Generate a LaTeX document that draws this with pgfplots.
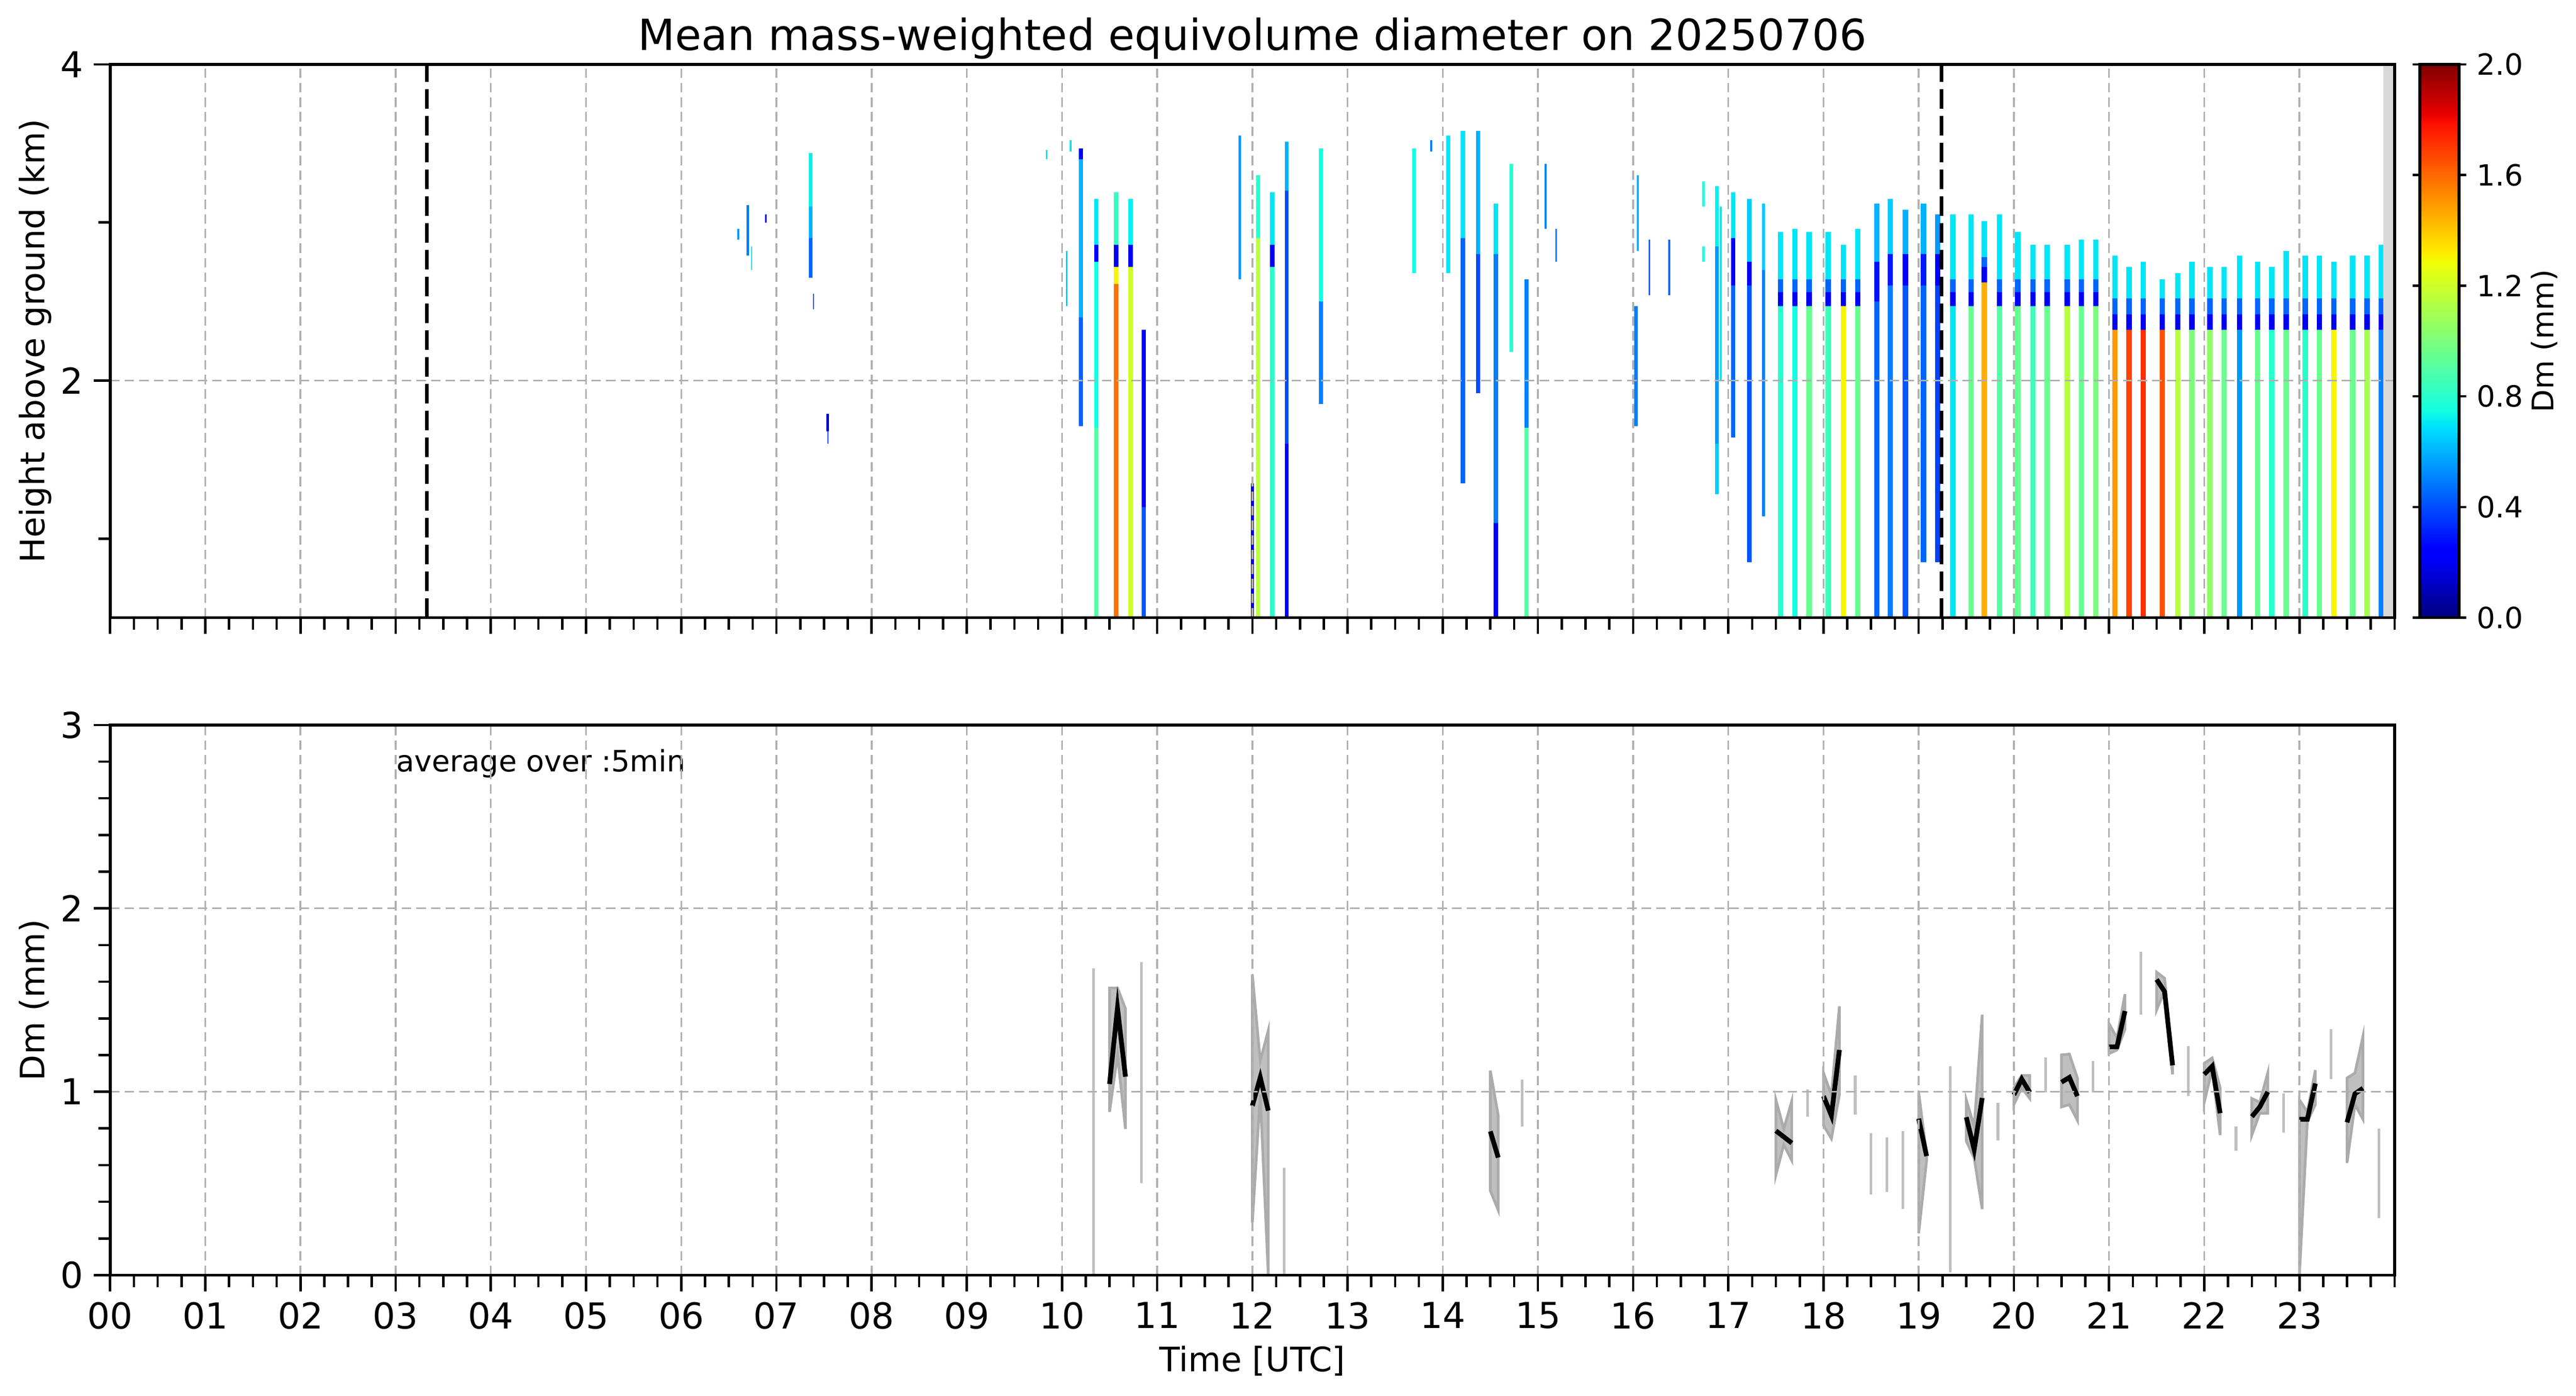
\documentclass[border=0pt]{standalone}
\usepackage{fontspec}
\setmainfont{DejaVu Sans}
\usepackage{pgfplots}
\pgfplotsset{compat=1.18}
\definecolor{gridgray}{RGB}{176,176,176}
\pgfplotsset{
  colormap={mpljet}{rgb(0pt)=(0,0,0.5) rgb(110pt)=(0,0,1) rgb(125pt)=(0,0,1) rgb(340pt)=(0,0.86,1) rgb(350pt)=(0,0.9,0.968) rgb(375pt)=(0.0806,1,0.887) rgb(640pt)=(0.935,1,0.032) rgb(650pt)=(0.968,0.963,0) rgb(660pt)=(1,0.926,0) rgb(890pt)=(1,0.074,0) rgb(910pt)=(0.909,0,0) rgb(1000pt)=(0.5,0,0)},
  stripe/.style={mesh, shader=flat mean, point meta=explicit, line width=1.8pt, forget plot},
  band/.style={fill=black!25, draw=black!33, line width=0.9pt, forget plot},
  thinl/.style={draw=black!25, line width=0.9pt, forget plot},
  blk/.style={black, line width=1.6pt, forget plot},
  common/.style={
    scale only axis, width=767.44pt,
    xmin=0, xmax=24,
    xtick={0,...,23}, minor xtick={0,0.25,...,24},
    tick align=outside, xtick pos=lower, ytick pos=left,
    major tick length=5.5pt, minor tick length=4pt,
    tick style={black, line width=0.8pt},
    axis line style={line width=1pt},
    xmajorgrids, ymajorgrids,
    major grid style={draw=gridgray, line width=0.6pt, dash pattern=on 3.2pt off 1.7pt},
    axis on top,
    tick label style={font=\fontsize{12}{14}\selectfont},
    /pgf/number format/assume math mode=true,
    every axis y label/.style={at={(axis description cs:0,0.5)}, xshift=-22pt, rotate=90, anchor=base, font=\fontsize{11.3}{13}\selectfont},
    every axis x label/.style={at={(axis description cs:0.5,0)}, yshift=-32.3pt, anchor=base, font=\fontsize{11.3}{13}\selectfont},
    every axis title/.style={at={(axis description cs:0.5,1)}, yshift=4.8pt, anchor=base, font=\fontsize{14.4}{17}\selectfont},
  },
}
\newcommand{\SEG}[5][1.8pt]{\addplot[stripe, line width=#1] coordinates {(#2,#3) [#5] (#2,#4) [#5]};}
\newcommand{\RS}[6]{\addplot[stripe] coordinates {(#1,0.5) [#6] (#1,#5) [#6] (#1,#5) [0.2] (#1,#4) [0.2] (#1,#4) [0.45] (#1,#3) [0.45] (#1,#3) [0.7] (#1,#2) [0.7]};}
\newcommand{\RA}[3]{\RS{#1}{#2}{2.64}{2.56}{2.47}{#3}}
\newcommand{\RB}[3]{\RS{#1}{#2}{2.52}{2.42}{2.32}{#3}}
\begin{document}
\begin{tikzpicture}
\useasboundingbox (0,0) rectangle (865.35pt,468.72pt);
% ---------------- top panel ----------------
\begin{axis}[common,
  at={(36.98pt,261.28pt)}, anchor=south west, height=185.81pt,
  ymin=0.5, ymax=4, ytick={2,4}, minor ytick={1,3},
  xticklabel={\relax},
  ylabel={Height above ground (km)},
  title={Mean mass-weighted equivolume diameter on 20250706},
  colormap name=mpljet, point meta min=0, point meta max=2,
  colorbar,
  colorbar style={
    at={(parent axis.north east)}, anchor=north west,
    scale only axis, width=13.14pt, height=185.81pt,
    ytick={0,0.4,0.8,1.2,1.6,2.0},
    yticklabel style={font=\fontsize{9.8}{11}\selectfont, /pgf/number format/.cd, fixed, fixed zerofill, precision=1, assume math mode=true},
    major tick length=2.4pt, tick align=outside,
    tick style={black, line width=0.8pt},
    axis line style={line width=1pt},
    ylabel={Dm (mm)},
    every axis y label/.style={at={(axis description cs:1,0.5)}, xshift=31.7pt, rotate=90, anchor=base, font=\fontsize{10}{12}\selectfont},
  },
]
% small echoes around 07 UTC
\SEG[0.7pt]{6.60}{2.89}{2.96}{0.55}
\SEG[0.9pt]{6.70}{2.79}{3.11}{0.5}
\SEG[0.5pt]{6.74}{2.70}{2.85}{0.7}
\SEG[0.5pt]{6.89}{3.00}{3.05}{0.2}
\SEG[1.2pt]{7.36}{2.65}{2.90}{0.45}
\SEG[1.2pt]{7.36}{2.90}{3.10}{0.6}
\SEG[1.2pt]{7.36}{3.10}{3.44}{0.72}
\SEG[0.4pt]{7.39}{2.45}{2.55}{0.4}
\SEG[0.8pt]{7.54}{1.68}{1.79}{0.12}
\SEG[0.4pt]{7.54}{1.60}{1.68}{0.4}
% 10-11 UTC
\SEG[0.6pt]{9.84}{3.40}{3.46}{0.7}
\SEG[0.6pt]{10.05}{2.47}{2.82}{0.65}
\SEG[0.6pt]{10.09}{3.45}{3.52}{0.7}
\SEG[1.3pt]{10.20}{1.71}{2.40}{0.45}
\SEG[1.3pt]{10.20}{2.40}{3.40}{0.6}
\SEG[1.3pt]{10.20}{3.40}{3.47}{0.2}
\SEG[1.3pt]{10.36}{0.50}{1.70}{0.9}
\SEG[1.3pt]{10.36}{1.70}{2.75}{0.75}
\SEG[1.3pt]{10.36}{2.75}{2.86}{0.22}
\SEG[1.3pt]{10.36}{2.86}{3.15}{0.7}
\SEG[1.6pt]{10.57}{0.50}{2.61}{1.58}
\SEG[1.6pt]{10.57}{2.61}{2.72}{1.3}
\SEG[1.6pt]{10.57}{2.72}{2.86}{0.2}
\SEG[1.6pt]{10.57}{2.86}{3.19}{0.82}
\SEG[1.5pt]{10.72}{0.50}{2.72}{1.2}
\SEG[1.5pt]{10.72}{2.72}{2.86}{0.2}
\SEG[1.5pt]{10.72}{2.86}{3.15}{0.72}
\SEG[1.3pt]{10.86}{0.50}{1.20}{0.42}
\SEG[1.3pt]{10.86}{1.20}{2.32}{0.25}
% 12 UTC
\SEG[0.8pt]{11.87}{2.64}{3.55}{0.55}
\SEG[1.1pt]{12.00}{0.50}{1.35}{0.2}
\SEG[1.4pt]{12.06}{0.50}{2.90}{1.15}
\SEG[1.4pt]{12.06}{2.90}{3.30}{0.8}
\SEG[1.5pt]{12.21}{0.50}{2.72}{0.8}
\SEG[1.5pt]{12.21}{2.72}{2.86}{0.2}
\SEG[1.5pt]{12.21}{2.86}{3.19}{0.7}
\SEG[1.3pt]{12.36}{0.50}{1.60}{0.22}
\SEG[1.3pt]{12.36}{1.60}{3.20}{0.4}
\SEG[1.3pt]{12.36}{3.20}{3.51}{0.6}
\SEG[1.3pt]{12.72}{1.85}{2.50}{0.5}
\SEG[1.3pt]{12.72}{2.50}{3.47}{0.75}
% 14 UTC
\SEG[1.2pt]{13.70}{2.68}{3.47}{0.75}
\SEG[0.6pt]{13.88}{3.45}{3.52}{0.5}
\SEG[1.4pt]{14.06}{2.68}{3.55}{0.7}
\SEG[1.6pt]{14.21}{1.35}{2.90}{0.45}
\SEG[1.6pt]{14.21}{2.90}{3.58}{0.7}
\SEG[1.4pt]{14.37}{1.92}{2.80}{0.4}
\SEG[1.4pt]{14.37}{2.80}{3.58}{0.6}
\SEG[1.6pt]{14.56}{0.50}{1.10}{0.25}
\SEG[1.6pt]{14.56}{1.10}{2.80}{0.5}
\SEG[1.6pt]{14.56}{2.80}{3.12}{0.7}
\SEG[1.2pt]{14.72}{2.18}{3.37}{0.78}
\SEG[1.4pt]{14.88}{0.50}{1.70}{0.9}
\SEG[1.4pt]{14.88}{1.70}{2.64}{0.5}
\SEG[0.8pt]{15.08}{2.96}{3.37}{0.5}
\SEG[0.5pt]{15.19}{2.75}{2.96}{0.5}
% 16-17.5 UTC
\SEG[1.2pt]{16.03}{1.71}{2.47}{0.5}
\SEG[0.6pt]{16.05}{2.82}{3.30}{0.6}
\SEG[0.6pt]{16.17}{2.54}{2.89}{0.45}
\SEG[0.8pt]{16.38}{2.54}{2.89}{0.45}
\SEG[0.8pt]{16.74}{2.75}{2.85}{0.75}
\SEG[0.8pt]{16.74}{3.10}{3.26}{0.75}
\SEG[1.2pt]{16.88}{1.28}{1.60}{0.65}
\SEG[1.2pt]{16.88}{1.60}{2.85}{0.55}
\SEG[1.2pt]{16.88}{2.85}{3.23}{0.72}
\SEG[0.6pt]{16.92}{2.00}{3.10}{0.7}
\SEG[1.4pt]{17.05}{1.64}{2.60}{0.45}
\SEG[1.4pt]{17.05}{2.60}{2.90}{0.25}
\SEG[1.4pt]{17.05}{2.90}{3.19}{0.7}
\SEG[1.5pt]{17.22}{0.85}{2.60}{0.42}
\SEG[1.5pt]{17.22}{2.60}{2.75}{0.2}
\SEG[1.5pt]{17.22}{2.75}{3.15}{0.65}
\SEG[1.2pt]{17.37}{1.14}{2.70}{0.5}
\SEG[1.2pt]{17.37}{2.70}{3.12}{0.65}
% regular stripes 17.5-24 UTC
\RA{17.55}{2.94}{0.8}
\RA{17.70}{2.96}{0.75}
\RA{17.85}{2.94}{0.95}
\RA{18.05}{2.94}{0.85}
\RA{18.21}{2.86}{1.3}
\RA{18.36}{2.96}{0.95}
\SEG{18.56}{0.50}{2.50}{0.45}
\SEG{18.56}{2.50}{2.75}{0.28}
\SEG{18.56}{2.75}{3.12}{0.6}
\SEG{18.70}{0.50}{2.60}{0.5}
\SEG{18.70}{2.60}{2.80}{0.3}
\SEG{18.70}{2.80}{3.15}{0.65}
\SEG{18.86}{0.50}{2.60}{0.42}
\SEG{18.86}{2.60}{2.80}{0.25}
\SEG{18.86}{2.80}{3.08}{0.6}
\SEG{19.05}{0.85}{2.60}{0.45}
\SEG{19.05}{2.60}{2.80}{0.3}
\SEG{19.05}{2.80}{3.12}{0.6}
\SEG{19.20}{0.85}{2.60}{0.38}
\SEG{19.20}{2.60}{2.80}{0.22}
\SEG{19.20}{2.80}{3.05}{0.55}
\RA{19.36}{3.05}{0.7}
\RA{19.55}{3.05}{0.95}
\RS{19.69}{3.01}{2.78}{2.72}{2.62}{1.45}
\RA{19.85}{3.05}{0.9}
\RA{20.04}{2.94}{0.95}
\RA{20.20}{2.86}{0.85}
\RA{20.35}{2.86}{0.95}
\RA{20.56}{2.86}{1.15}
\RA{20.71}{2.89}{0.95}
\RA{20.86}{2.89}{1.0}
\RB{21.06}{2.79}{1.5}
\RB{21.21}{2.72}{1.68}
\RB{21.36}{2.75}{1.72}
\RB{21.56}{2.64}{1.65}
\RB{21.72}{2.68}{1.15}
\RB{21.87}{2.75}{1.0}
\RB{22.06}{2.72}{1.05}
\RB{22.21}{2.72}{0.95}
\RS{22.37}{2.79}{2.52}{2.42}{2.32}{0.55}
\RB{22.56}{2.75}{0.95}
\RB{22.71}{2.72}{0.8}
\RB{22.86}{2.82}{0.95}
\RB{23.06}{2.79}{0.8}
\RB{23.21}{2.79}{0.95}
\RB{23.36}{2.75}{1.3}
\RB{23.56}{2.79}{0.95}
\RB{23.71}{2.79}{1.1}
\RS{23.86}{2.86}{2.52}{2.42}{2.32}{0.5}
% missing-data band and day markers
\addplot[fill=black!15, draw=none, forget plot] coordinates {(23.883,0.5) (24,0.5) (24,4) (23.883,4)} -- cycle;
\addplot[black, line width=1.2pt, dash pattern=on 6.5pt off 2.5pt, forget plot] coordinates {(3.33,0.5) (3.33,4)};
\addplot[black, line width=1.2pt, dash pattern=on 6.5pt off 2.5pt, forget plot] coordinates {(19.24,0.5) (19.24,4)};
\end{axis}
% ---------------- bottom panel ----------------
\begin{axis}[common,
  at={(36.98pt,40.47pt)}, anchor=south west, height=184.77pt,
  ymin=0, ymax=3, ytick={0,1,2,3}, minor ytick={0.2,0.4,0.6,0.8,1.2,1.4,1.6,1.8,2.2,2.4,2.6,2.8},
  xticklabels={00,01,02,03,04,05,06,07,08,09,10,11,12,13,14,15,16,17,18,19,20,21,22,23},
  xlabel={Time [UTC]}, ylabel={Dm (mm)},
]
% single-sample spreads
\addplot[thinl] coordinates {(10.333,0) (10.333,1.672)};
\addplot[thinl] coordinates {(10.833,0.5) (10.833,1.707)};
\addplot[thinl] coordinates {(12.333,0) (12.333,0.585)};
\addplot[thinl] coordinates {(14.833,0.81) (14.833,1.065)};
\addplot[thinl] coordinates {(17.833,0.864) (17.833,1.012)};
\addplot[thinl] coordinates {(18.333,0.874) (18.333,1.089)};
\addplot[thinl] coordinates {(18.5,0.44) (18.5,0.774)};
\addplot[thinl] coordinates {(18.667,0.453) (18.667,0.751)};
\addplot[thinl] coordinates {(18.833,0.36) (18.833,0.784)};
\addplot[thinl] coordinates {(19.333,0.016) (19.333,1.139)};
\addplot[thinl] coordinates {(19.833,0.734) (19.833,0.94)};
\addplot[thinl] coordinates {(20.333,0.996) (20.333,1.188)};
\addplot[thinl] coordinates {(20.833,0.996) (20.833,1.168)};
\addplot[thinl] coordinates {(21.333,1.42) (21.333,1.764)};
\addplot[thinl] coordinates {(21.833,0.976) (21.833,1.248)};
\addplot[thinl] coordinates {(22.333,0.678) (22.333,0.811)};
\addplot[thinl] coordinates {(22.833,0.777) (22.833,0.989)};
\addplot[thinl] coordinates {(23.333,1.069) (23.333,1.343)};
\addplot[thinl] coordinates {(23.833,0.31) (23.833,0.8)};
% spread bands
\addplot[band] coordinates {(10.5,1.566) (10.583,1.566) (10.667,1.453) (10.667,0.797) (10.583,1.201) (10.5,0.89)} -- cycle;
\addplot[band] coordinates {(12,1.638) (12.083,1.168) (12.167,1.334) (12.167,0) (12.083,0.983) (12,0.287)} -- cycle;
\addplot[band] coordinates {(14.5,1.115) (14.583,0.87) (14.583,0.354) (14.5,0.46)} -- cycle;
\addplot[band] coordinates {(17.5,0.956) (17.583,0.797) (17.667,0.95) (17.667,0.625) (17.583,0.711) (17.5,0.546)} -- cycle;
\addplot[band] coordinates {(18,1.102) (18.083,0.983) (18.167,1.466) (18.167,0.983) (18.083,0.744) (18,0.817)} -- cycle;
\addplot[band] coordinates {(19,0.996) (19.083,0.66) (19.083,0.625) (19,0.228)} -- cycle;
\addplot[band] coordinates {(19.5,0.956) (19.583,0.81) (19.667,1.42) (19.667,0.36) (19.583,0.638) (19.5,0.731)} -- cycle;
\addplot[band] coordinates {(20,1.022) (20.083,1.089) (20.167,1.089) (20.167,0.963) (20.083,1.022) (20,0.93)} -- cycle;
\addplot[band] coordinates {(20.5,1.201) (20.583,1.205) (20.667,1.075) (20.667,0.844) (20.583,0.93) (20.5,0.917)} -- cycle;
\addplot[band] coordinates {(21,1.371) (21.083,1.294) (21.167,1.532) (21.167,1.34) (21.083,1.228) (21,1.208)} -- cycle;
\addplot[band] coordinates {(21.5,1.652) (21.583,1.619) (21.667,1.155) (21.667,1.095) (21.583,1.552) (21.5,1.446)} -- cycle;
\addplot[band] coordinates {(22,1.155) (22.083,1.184) (22.167,1.022) (22.167,0.764) (22.083,1.122) (22,0.943)} -- cycle;
\addplot[band] coordinates {(22.5,0.963) (22.583,0.943) (22.667,1.102) (22.667,0.883) (22.583,0.883) (22.5,0.764)} -- cycle;
\addplot[band] coordinates {(23,0.956) (23.083,0.89) (23.167,1.118) (23.167,0.93) (23.083,0.837) (23,0.003)} -- cycle;
\addplot[band] coordinates {(23.5,1.075) (23.583,1.102) (23.667,1.301) (23.667,0.85) (23.583,0.93) (23.5,0.612)} -- cycle;
% 5-min averages
\addplot[blk] coordinates {(10.5,1.042) (10.583,1.457) (10.667,1.082)};
\addplot[blk] coordinates {(12,0.923) (12.083,1.078) (12.167,0.897)};
\addplot[blk] coordinates {(14.5,0.784) (14.583,0.641)};
\addplot[blk] coordinates {(17.5,0.787) (17.583,0.754) (17.667,0.72)};
\addplot[blk] coordinates {(18,0.976) (18.083,0.87) (18.167,1.228)};
\addplot[blk] coordinates {(19,0.853) (19.083,0.649)};
\addplot[blk] coordinates {(19.5,0.861) (19.583,0.685) (19.667,0.966)};
\addplot[blk] coordinates {(20,0.983) (20.083,1.069) (20.167,0.996)};
\addplot[blk] coordinates {(20.5,1.052) (20.583,1.078) (20.667,0.976)};
\addplot[blk] coordinates {(21,1.245) (21.083,1.245) (21.167,1.44)};
\addplot[blk] coordinates {(21.5,1.612) (21.583,1.546) (21.667,1.144)};
\addplot[blk] coordinates {(22,1.095) (22.083,1.139) (22.167,0.883)};
\addplot[blk] coordinates {(22.5,0.864) (22.583,0.917) (22.667,0.999)};
\addplot[blk] coordinates {(23,0.85) (23.083,0.85) (23.167,1.045)};
\addplot[blk] coordinates {(23.5,0.833) (23.583,0.989) (23.667,1.019)};
\node[anchor=base west, inner sep=0pt, font=\fontsize{9.9}{12}\selectfont] at (axis cs:3.0,2.744) {average over :5min};
\end{axis}
\end{tikzpicture}
\end{document}
